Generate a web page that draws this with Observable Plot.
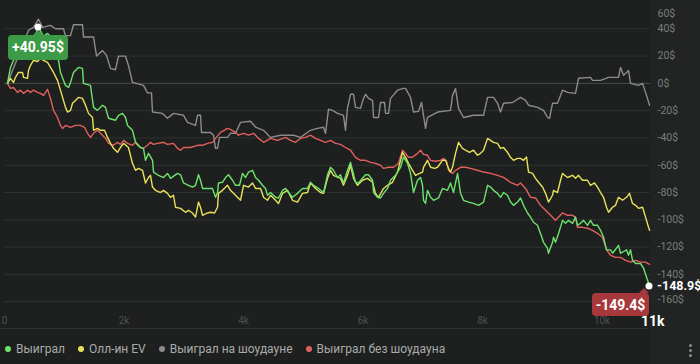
<!DOCTYPE html>
<html><head><meta charset="utf-8">
<script src="https://cdn.jsdelivr.net/npm/d3@7"></script>
<script src="https://cdn.jsdelivr.net/npm/@observablehq/plot@0.6"></script>
<style>
html,body{margin:0;padding:0;}
body{width:700px;height:364px;overflow:hidden;background:#1d201e;font-family:Roboto,"Liberation Sans",sans-serif;}
#wrap{position:relative;width:700px;height:364px;background:linear-gradient(to right,#1d201e 0,#1d201e 650px,#212422 650px);}
#chart{position:absolute;left:0;top:0;}
#sep{position:absolute;left:0;top:328px;width:648px;height:1px;background:#2f3330;}
#legend{position:absolute;left:5px;top:342px;display:flex;align-items:center;font-size:12px;color:#a9aba9;white-space:nowrap;}
.item{display:flex;align-items:center;margin-right:13px;}
.item i{display:inline-block;width:6px;height:6px;border-radius:50%;margin-right:5px;}
#menu{position:absolute;left:689px;top:344px;width:4px;}
#menu b{display:block;width:3px;height:3px;border-radius:50%;background:#8a8c8a;margin-bottom:2px;}
.box{position:absolute;color:#fff;font-weight:bold;font-size:14px;border-radius:4px;display:flex;align-items:center;justify-content:center;}
.dot{position:absolute;width:7px;height:7px;border-radius:50%;background:#fff;transform:translate(-50%,-50%);}
.notch{position:absolute;width:0;height:0;border-left:5px solid transparent;border-right:5px solid transparent;}
.txt{position:absolute;color:#fff;font-weight:bold;transform:translateY(-50%);white-space:nowrap;line-height:1;}
</style></head>
<body><div id="wrap"><div id="chart"></div><div id="sep"></div>
<div id="legend"></div><div id="menu"><b></b><b></b><b></b></div></div>
<script>
const seriesNames = ["Выиграл", "Олл-ин EV", "Выиграл на шоудауне", "Выиграл без шоудауна"];
const seriesColors = ["#6de26c", "#e9e15a", "#8c8c8c", "#e2605e"];
const xTicks = [0, 2000, 4000, 6000, 8000, 10000];
const xTickLabels = ["0", "2k", "4k", "6k", "8k", "10k"];
const yTicks = [-140, -120, -100, -80, -60, -40, -20, 0, 20, 40];
const peakLabel = "+40.95$";
const lastLabel = "-148.9$";
const hoverLabel = "-149.4$";
const hoverHandsLabel = "11k";

const greenHands = [50,100,150,268,385,485,569,653,720,803,870,904,937,1021,1071,1105,1155,1238,1305,1322,1439,1490,1556,1640,1690,1741,1858,1908,1975,2025,2059,2142,2192,2276,2326,2360,2410,2477,2494,2561,2661,2728,2778,2895,2946,2996,3079,3146,3197,3247,3280,3314,3364,3481,3531,3565,3581,3648,3699,3749,3816,3866,3933,3983,4033,4084,4151,4201,4251,4318,4368,4402,4452,4536,4586,4653,4703,4753,4820,4904,4987,5071,5121,5171,5255,5339,5406,5456,5506,5573,5623,5673,5740,5791,5824,5874,5924,5991,6042,6092,6159,6176,6242,6293,6343,6410,6460,6544,6628,6678,6745,6795,6845,6912,6962,6996,7012,7046,7079,7130,7180,7264,7330,7414,7464,7515,7582,7632,7682,7766,7849,7933,8017,8084,8134,8184,8251,8301,8351,8418,8468,8519,8586,8636,8686,8753,8803,8853,8920,8970,9021,9088,9104,9171,9188,9221,9272,9339,9389,9439,9506,9556,9590,9640,9690,9757,9807,9857,9924,9975,10025,10075,10142,10176,10276,10310,10410,10443,10477,10510,10561,10644,10695,10762,10795];
const greenValues = [0,11.7,16.8,24,29,33,40.95,34.4,36.6,33,20.5,16.8,8,-1.5,-3,0.7,8,11.7,11,0,-1.5,-17.6,-19.8,-16,-17.6,-25.6,-27,-23.4,-22,-25,-30.8,-34.4,-43,-47,-47.6,-56.4,-51.3,-56.4,-65,-67,-69,-66,-69.6,-66,-67,-73,-74.7,-76,-74.7,-67,-71,-77,-77,-77,-83.5,-80,-73,-72.5,-69,-67,-71,-74.7,-74.7,-66,-69,-65,-63.7,-69,-71,-74.7,-77,-82,-80,-83.5,-84,-78.4,-77,-80,-83.5,-80.6,-77,-77,-72.5,-74.7,-77,-80,-67,-61.5,-63.7,-69,-67,-73,-63.7,-57.9,-63.7,-72.5,-73,-69.6,-67,-67,-71,-80,-83.5,-84,-80.6,-77,-71,-67.4,-61.5,-54,-58.6,-66,-80,-71,-69,-74.7,-85.7,-88,-78.4,-83.5,-85.7,-84,-77,-78.4,-73,-80,-66,-80.6,-85.7,-87,-88,-89.4,-87,-74.7,-76,-78.4,-80.6,-83.5,-80,-82,-87,-89.4,-87,-84,-89.4,-95,-98,-101.8,-104,-110,-116.5,-121,-124.5,-116.5,-112.8,-116.5,-110,-100.4,-102.6,-100.4,-102.6,-98,-104,-102.6,-100.4,-104,-100.4,-104,-104,-107.7,-112.8,-122,-122,-124.5,-118.7,-124.5,-122,-126,-122,-129.7,-132,-132,-135.5,-144.3,-148.9];

const yellowHands = [50,100,150,184,234,301,318,385,402,435,485,552,602,653,720,770,820,887,937,987,1021,1054,1105,1138,1188,1238,1305,1356,1406,1473,1490,1556,1607,1674,1724,1774,1824,1891,1941,1992,2075,2142,2192,2243,2309,2360,2410,2443,2477,2527,2611,2661,2728,2778,2828,2862,2946,3029,3079,3146,3197,3247,3280,3314,3397,3448,3515,3565,3581,3648,3732,3782,3833,3899,3950,4000,4084,4151,4201,4285,4335,4402,4452,4536,4586,4653,4736,4820,4904,4987,5071,5121,5205,5289,5339,5406,5456,5506,5623,5673,5740,5791,5841,5908,5991,6075,6159,6209,6259,6343,6410,6494,6577,6628,6661,6711,6761,6828,6879,6946,6996,7012,7079,7130,7197,7247,7330,7381,7431,7464,7498,7515,7548,7598,7665,7715,7782,7849,7916,7966,8017,8084,8134,8184,8251,8301,8351,8418,8468,8519,8586,8636,8686,8736,8770,8837,8887,8937,9004,9054,9104,9171,9188,9255,9305,9339,9423,9506,9556,9606,9673,9757,9807,9874,9924,9975,10025,10075,10109,10176,10226,10276,10343,10410,10460,10510,10561,10611,10678,10728,10778,10795];
const yellowValues = [0,3.7,0.7,4.4,8,8,4.4,3.7,9.5,13.2,16.8,16,18.3,16.8,15.4,11.7,8,2.2,-5,-12.5,-17.6,-21,-19.8,-14.6,-12.5,-10.3,-11,-16,-22,-25,-34.4,-33,-34.4,-34.4,-39.6,-44,-47.6,-50.5,-47,-44,-47,-58.6,-63.7,-62.3,-63.7,-73,-69,-67.4,-76,-78.4,-80,-78.4,-80.6,-83.5,-82,-90.8,-91.6,-94.5,-93,-95,-98,-87,-90.8,-96.7,-95,-94.5,-95,-90.8,-80.6,-78.4,-74.7,-78.4,-80.6,-83.5,-85.7,-74.7,-76,-73,-77,-77,-83.5,-85.7,-82,-85.7,-88,-80.6,-78.4,-85.7,-87,-80.6,-80,-73,-77,-80,-80.6,-69.6,-63.7,-67.4,-69.6,-74.7,-67.4,-60,-69.6,-74.7,-71,-69.6,-72.5,-80.6,-83.5,-77,-74.7,-72.5,-65,-56.4,-50.5,-54,-58.6,-63.7,-67.4,-66,-65,-61.5,-56.4,-61.5,-62.3,-61.5,-56.4,-56.4,-62.3,-65,-61.5,-57.9,-51.3,-43.2,-47.6,-49,-50.5,-49,-52.7,-51.3,-49,-40.3,-41.8,-43.2,-44,-47.6,-47,-50.5,-54.2,-56.4,-55,-55,-56.4,-54,-65,-66,-69.6,-72.5,-76,-80.6,-87,-82,-78.4,-80,-71,-66,-69,-67.4,-69.6,-67.4,-71,-71,-74.7,-73,-76,-80,-83.5,-90.8,-94.5,-90.8,-89.4,-83.5,-85.7,-83.5,-80.6,-88,-89.4,-91.6,-90.8,-98,-105.5,-107.7];

const grayHands = [50,134,268,402,485,569,636,770,854,987,1021,1105,1155,1305,1322,1490,1540,1640,1707,1774,1858,1908,2025,2075,2142,2326,2393,2460,2477,2644,2728,2828,2996,3063,3197,3230,3280,3297,3448,3498,3531,3565,3598,3732,3782,3866,3950,4117,4201,4335,4452,4619,4837,4954,5121,5238,5339,5372,5422,5489,5573,5673,5707,5740,5791,5841,5874,5958,6008,6042,6092,6159,6176,6259,6293,6360,6377,6427,6460,6577,6678,6711,6795,6845,6929,6979,7012,7046,7079,7247,7464,7498,7548,7598,7682,7849,8017,8084,8184,8251,8301,8351,8502,8636,8720,8770,8920,9021,9088,9121,9171,9255,9339,9423,9556,9606,9807,9841,9975,10109,10276,10310,10360,10410,10443,10477,10611,10678,10728,10795];
const grayValues = [0,9.5,24,39,41,47,41,42.5,40,40,35,35,43,43,34,34,20,24,20.5,11,10,20,20,13,0.7,-1.5,-7,-7,-21,-22,-25.6,-22,-23.4,-28.6,-30.8,-23.4,-23.4,-36,-36,-38,-47.6,-47.6,-39.6,-39.6,-36.6,-36.6,-28.6,-27.8,-32,-34.4,-39.6,-38,-38,-39.6,-34.4,-33,-32.2,-36.6,-19,-19.8,-22,-23.4,-34.4,-18.3,-8,-8,-17.6,-18.3,-11,-8,-11,-12.5,-25,-25,-14,-14,-22,-22,-11,-5,-3.7,-3.7,-10.3,-21,-20.5,-14,-23.4,-33,-25,-21,-19.8,-8.8,-3.7,-18.3,-25,-23.4,-23.4,-10.3,-10.3,-14.6,-21,-14.6,-14,-10.3,-12.5,-16,-17.6,-19.8,-25,-25.6,-14.6,-14.6,-5,-6.6,-7.3,3.7,4.4,2.2,2.2,4.4,4.4,11.7,5.9,8,9.5,0,-1.5,0,-6.6,-16];

const redHands = [50,100,150,218,268,318,385,435,485,552,602,653,720,770,820,887,937,971,1021,1105,1188,1272,1339,1389,1439,1490,1556,1607,1690,1741,1824,1891,1941,1992,2059,2142,2192,2226,2276,2326,2393,2443,2494,2561,2661,2728,2828,2895,2946,2996,3113,3230,3314,3397,3481,3531,3615,3732,3782,3866,3916,4000,4084,4167,4251,4335,4452,4569,4703,4787,4870,4954,5038,5121,5205,5289,5372,5456,5540,5623,5707,5791,5874,5958,6042,6126,6209,6293,6343,6427,6511,6594,6661,6711,6761,6828,6912,6962,7012,7079,7130,7213,7297,7347,7397,7431,7498,7548,7632,7715,7799,7916,8017,8134,8251,8351,8468,8586,8636,8720,8803,8887,8970,9054,9138,9221,9272,9339,9423,9506,9556,9590,9673,9757,9841,9924,10008,10075,10142,10226,10310,10393,10477,10561,10644,10728,10795];
const redValues = [0,-3.7,-3,-6.6,-5,-7.3,-5,-6.6,-5,-6.6,-7.3,-8.8,-4.4,-11,-19.8,-25,-30.8,-33,-30.8,-32.2,-30.8,-30.8,-32.2,-36.6,-39.6,-36.6,-34.4,-36.6,-40.3,-44,-45.4,-43.2,-44.7,-41.8,-44,-45.4,-43.2,-45.4,-47,-47.6,-45.4,-43.2,-44.7,-44,-43.2,-44.7,-44,-47.6,-49,-47,-47,-45.4,-45.4,-44,-43.2,-40.3,-35.9,-33,-33.7,-35.9,-38,-36.6,-38,-36.6,-40.3,-43.2,-40.3,-41.8,-39.6,-41.8,-43.2,-40.3,-39.6,-38,-40.3,-41.8,-43.2,-41.8,-44,-44.7,-47,-49,-54.2,-56.4,-56.4,-57.9,-58.6,-60,-62.3,-61.5,-61.5,-58.6,-49,-51.3,-54.2,-54.2,-51.3,-49,-52,-52.7,-56.4,-57.1,-56.4,-55,-57.1,-63.7,-66,-63.7,-61.5,-61.5,-62.3,-63.7,-65,-66,-67.4,-68.9,-72.5,-74.7,-73,-77,-83.5,-84,-89.4,-93,-96.7,-100.4,-98,-95,-96.7,-96.7,-98,-105.5,-105.5,-106.2,-107.7,-110,-112.8,-122,-126,-127.5,-127.5,-129.7,-131,-129.7,-131,-131,-132.6];

const toRows = (hands, values, s) => hands.map((h, i) => ({hands: h, value: values[i], series: s}));
const green = toRows(greenHands, greenValues, seriesNames[0]);
const yellow = toRows(yellowHands, yellowValues, seriesNames[1]);
const gray = toRows(grayHands, grayValues, seriesNames[2]);
const red = toRows(redHands, redValues, seriesNames[3]);

const gridTicks = [-160, -140, -120, -100, -80, -60, -40, -20, 20, 40];
const line = (data, color) => Plot.line(data, {x: "hands", y: "value", stroke: color, strokeWidth: 1.4, strokeLinejoin: "round"});

const plot = Plot.plot({
  width: 700, height: 328,
  marginLeft: 4, marginRight: 50, marginTop: 1, marginBottom: 20,
  style: {background: "transparent", fontFamily: "Roboto, 'Liberation Sans', sans-serif", overflow: "visible"},
  x: {domain: [0, 10811], label: null},
  y: {domain: [-165, 60], label: null},
  marks: [
    Plot.ruleY(gridTicks, {stroke: "#2e322f", strokeWidth: 1}),
    Plot.ruleY([0], {stroke: "#4a4e4b", strokeWidth: 1}),
    Plot.axisX({ticks: xTicks, tickSize: 0, tickPadding: 8, tickFormat: d => xTickLabels[xTicks.indexOf(d)], color: "#4d524f", fontSize: 10, label: null}),
    Plot.axisY({anchor: "right", ticks: yTicks, tickSize: 0, tickPadding: 7, tickFormat: d => d + "$", color: "#7b7e7c", fontSize: 10.5, label: null}),
    Plot.text([60], {frameAnchor: "right", y: d => d, text: d => d + "$", dx: 7, dy: 12, textAnchor: "start", fill: "#7b7e7c", fontSize: 10.5}),
    Plot.text([-160], {frameAnchor: "right", y: d => d, text: d => d + "$", dx: 7, dy: -2, textAnchor: "start", fill: "#7b7e7c", fontSize: 10.5}),
    line(gray, seriesColors[2]),
    line(red, seriesColors[3]),
    line(yellow, seriesColors[1]),
    line(green, seriesColors[0])
  ]
});
const chart = document.getElementById("chart");
chart.appendChild(plot);
const xs = plot.scale("x"), ys = plot.scale("y");
const wrap = document.getElementById("wrap");
function add(html) { const t = document.createElement("div"); t.innerHTML = html; const el = t.firstChild; wrap.appendChild(el); return el; }

// peak label
const pi = greenValues.indexOf(d3.max(greenValues));
const px = xs.apply(greenHands[pi]), py = ys.apply(greenValues[pi]);
add(`<div class="box" style="left:${px-30}px;top:${py+8}px;width:60px;height:25px;background:#3d9a47">${peakLabel}</div>`);
add(`<div class="notch" style="left:${px-5}px;top:${py+3}px;border-bottom:5px solid #3d9a47"></div>`);
add(`<div class="dot" style="left:${px}px;top:${py}px"></div>`);

// last point labels
const li = greenHands.length - 1;
const lx = xs.apply(greenHands[li]), ly = ys.apply(greenValues[li]);
add(`<div class="txt" style="left:${lx+8}px;top:${ly}px;font-size:12.5px">${lastLabel}</div>`);
add(`<div class="txt" style="left:${lx-8}px;top:${ly+35}px;font-size:14px">${hoverHandsLabel}</div>`);
add(`<div class="box" style="left:${lx-57}px;top:${ly+7}px;width:57px;height:23px;background:#a7393d;font-size:14px">${hoverLabel}</div>`);
add(`<div class="notch" style="left:${lx-10}px;top:${ly+2}px;border-bottom:5px solid #a7393d"></div>`);
add(`<div class="dot" style="left:${lx}px;top:${ly}px"></div>`);

const legend = document.getElementById("legend");
seriesNames.forEach((n, i) => {
  legend.insertAdjacentHTML("beforeend", `<div class="item"><i style="background:${seriesColors[i]}"></i>${n}</div>`);
});
</script></body></html>
